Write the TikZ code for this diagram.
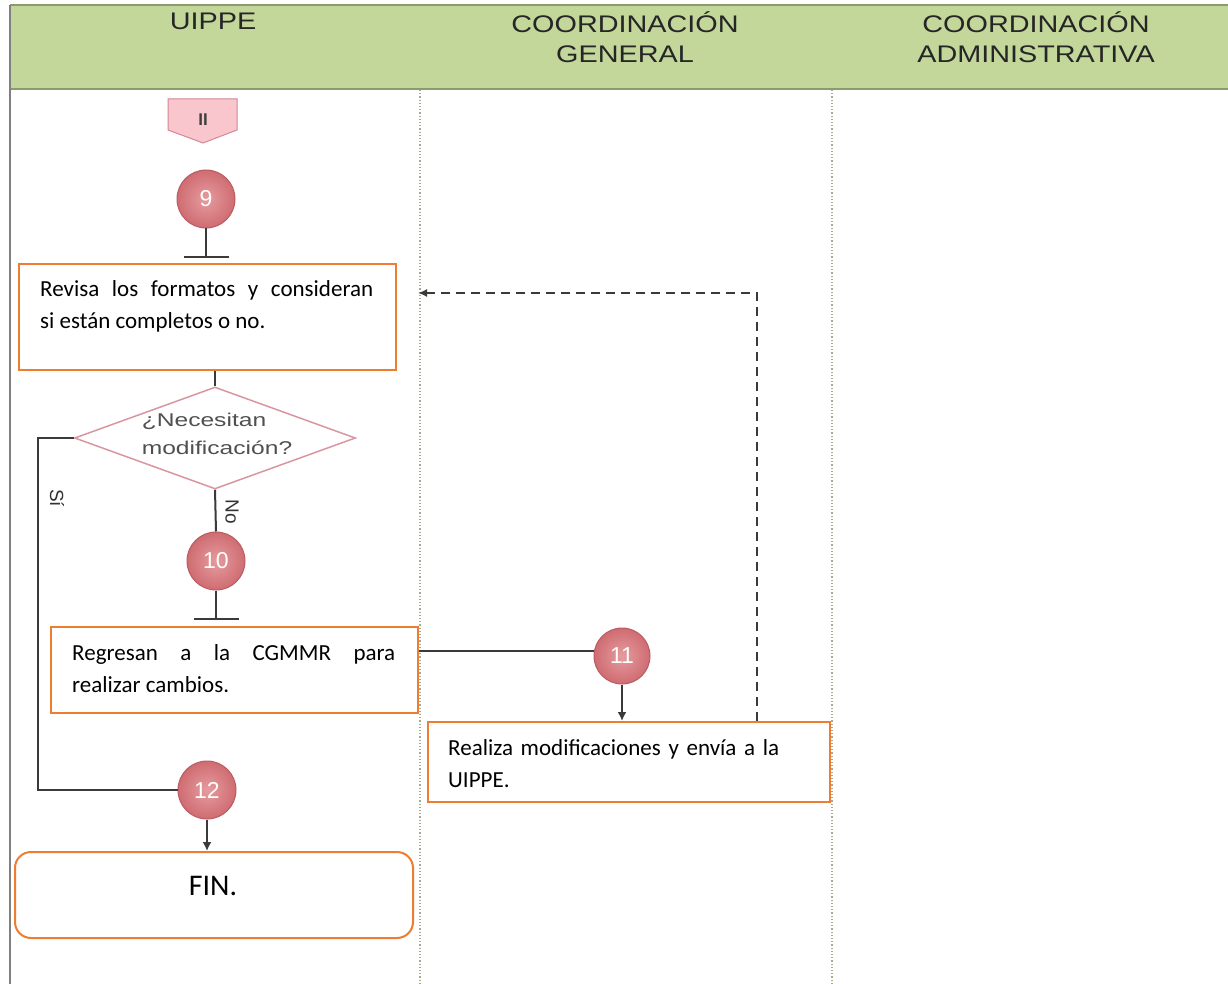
\documentclass[tikz,border=0pt]{standalone}
\usepackage{fontspec}
\usepackage{graphicx}
\setmainfont{Carlito}
\newfontfamily\arialf{Liberation Sans}
\usetikzlibrary{arrows.meta,shapes.geometric}
\definecolor{hdrgreen}{HTML}{C4D79B}
\definecolor{hdrline}{HTML}{8C9B6E}
\definecolor{boxorange}{HTML}{ED7D31}
\definecolor{circin}{HTML}{E59C9F}
\definecolor{circout}{HTML}{CF6C72}
\definecolor{circline}{HTML}{B85C62}
\definecolor{pinkfill}{HTML}{F8C6CC}
\definecolor{pinkline}{HTML}{D48893}
\definecolor{diamline}{HTML}{D8979E}
\definecolor{lanecol}{HTML}{A3AD93}
\definecolor{linecol}{HTML}{3A3A3A}
\definecolor{dtext}{HTML}{505050}
\tikzset{
  stepbox/.style={draw=boxorange, line width=2pt, fill=white, inner sep=0pt},
  boxtext/.style={inner sep=0pt, font=\fontsize{23}{32}\selectfont, anchor=north west},
  numcirc/.style={circle, inner color=circin, outer color=circout, draw=circline, line width=1pt, minimum size=58pt, inner sep=0pt, text=white, font=\arialf\fontsize{23}{23}\selectfont},
  conn/.style={draw=linecol, line width=2pt},
  arr/.style={conn, -{Latex[length=9pt,width=9pt]}},
  tbar/.style={conn, -{Bar[width=45pt,line width=2pt]}},
  hdrtext/.style={font=\arialf\fontsize{24}{30}\selectfont, align=center, text=black!85},
  lane/.style={draw=lanecol, line width=1.2pt, dotted},
  lbl/.style={font=\arialf\fontsize{19}{19}\selectfont, text=black!80, rotate=-90, inner sep=0pt}
}
\begin{document}
\begin{tikzpicture}[x=1pt,y=-1pt]
\useasboundingbox (0,0) rectangle (1228,984);
\fill[white] (0,0) rectangle (1228,984);
% header
\fill[hdrgreen] (10,5) rectangle (1228,89);
\draw[hdrline, line width=1.5pt] (10,5) -- (1228,5);
\draw[hdrline, line width=1.5pt] (10,89) -- (1228,89);
\draw[gray, line width=2pt] (10,5) -- (10,984);
\node[hdrtext] (h1) at (213,21) {\scalebox{1.2}[1]{UIPPE}};
\node[hdrtext] (h2) at (625,37) {\scalebox{1.2}[1]{COORDINACIÓN}\\\scalebox{1.2}[1]{GENERAL}};
\node[hdrtext] (h3) at (1036,37) {\scalebox{1.2}[1]{COORDINACIÓN}\\\scalebox{1.2}[1]{ADMINISTRATIVA}};
% lanes
\draw[lane] (420,90) -- (420,984);
\draw[lane] (832,90) -- (832,984);
% off-page connector
\draw[fill=pinkfill, draw=pinkline, line width=1pt] (168,99) -- (237,99) -- (237,130) -- (203,143) -- (168,130) -- cycle;
\node[font=\arialf\bfseries\fontsize{17}{17}\selectfont, text=black!75] (op) at (203,120) {II};
% circle 9 and box 1
\node[numcirc] (c9) at (206,199) {9};
\node[stepbox, minimum width=377pt, minimum height=106pt, anchor=north west] (b1) at (18,263) {};
\node[boxtext, text width=333pt, align=justify] (t1) at (40,280) {Revisa los formatos y consideran\linebreak si están completos o no.};
\draw[tbar] (c9.south) -- ([yshift=5pt]b1.north -| c9.south);
% decision
\node[diamond, draw=diamline, line width=1.5pt, fill=white, minimum width=281pt, minimum height=102pt, inner sep=0pt] (d) at (215,438) {};
\node[font=\arialf\fontsize{18.5}{28}\selectfont, text=dtext, align=left, inner sep=0pt] (dt) at (217,434) {\scalebox{1.33}[1]{¿Necesitan}\\\scalebox{1.33}[1]{modificación?}};
\draw[conn] (b1.south -| d.north) -- (d.north);
% No branch
\node[numcirc] (c10) at (216,561) {10};
\draw[conn] (d.south) -- (c10.north);
\node[lbl] (no) at (232,512) {No};
% box 2
\node[stepbox, minimum width=367pt, minimum height=86pt, anchor=north west] (b2) at (50,626) {};
\node[boxtext, text width=323pt, align=justify] (t2) at (72,644) {Regresan a la CGMMR para\linebreak realizar cambios.};
\draw[tbar] (c10.south) -- ([yshift=6pt]b2.north -| c10.south);
% circle 11 and box 3
\node[numcirc, minimum size=56pt] (c11) at (622,656) {11};
\draw[conn] (c11.west |- 0,651) -- (b2.east |- 0,651);
\node[stepbox, minimum width=402pt, minimum height=80pt, anchor=north west] (b3) at (427,721) {};
\node[boxtext, text width=370pt, align=left] (t3) at (448,739) {Realiza modificaciones y envía a la UIPPE.};
\draw[arr] (c11.south) -- (b3.north -| c11.south);
% dashed return
\coordinate (dturn) at (757,293);
\coordinate (dend) at (418,293);
\draw[conn, dashed, dash pattern=on 9pt off 6pt, -{Latex[length=9pt,width=8pt]}] (b3.north -| dturn) -- (dturn) -- (dend);
% Si branch
\node[numcirc] (c12) at (207,790) {12};
\coordinate (sicorner) at (38,438);
\draw[conn] (d.west) -- (sicorner) |- (c12.west);
\node[lbl] (si) at (57,498) {Sí};
% FIN
\node[draw=boxorange, line width=2pt, fill=white, rounded corners=16pt, minimum width=398pt, minimum height=86pt, anchor=north west] (fin) at (14,851) {};
\node[font=\fontsize{30}{30}\selectfont, inner sep=0pt] (fint) at (213,886) {FIN.};
\draw[arr] (c12.south) -- (fin.north -| c12.south);
\end{tikzpicture}
\end{document}
